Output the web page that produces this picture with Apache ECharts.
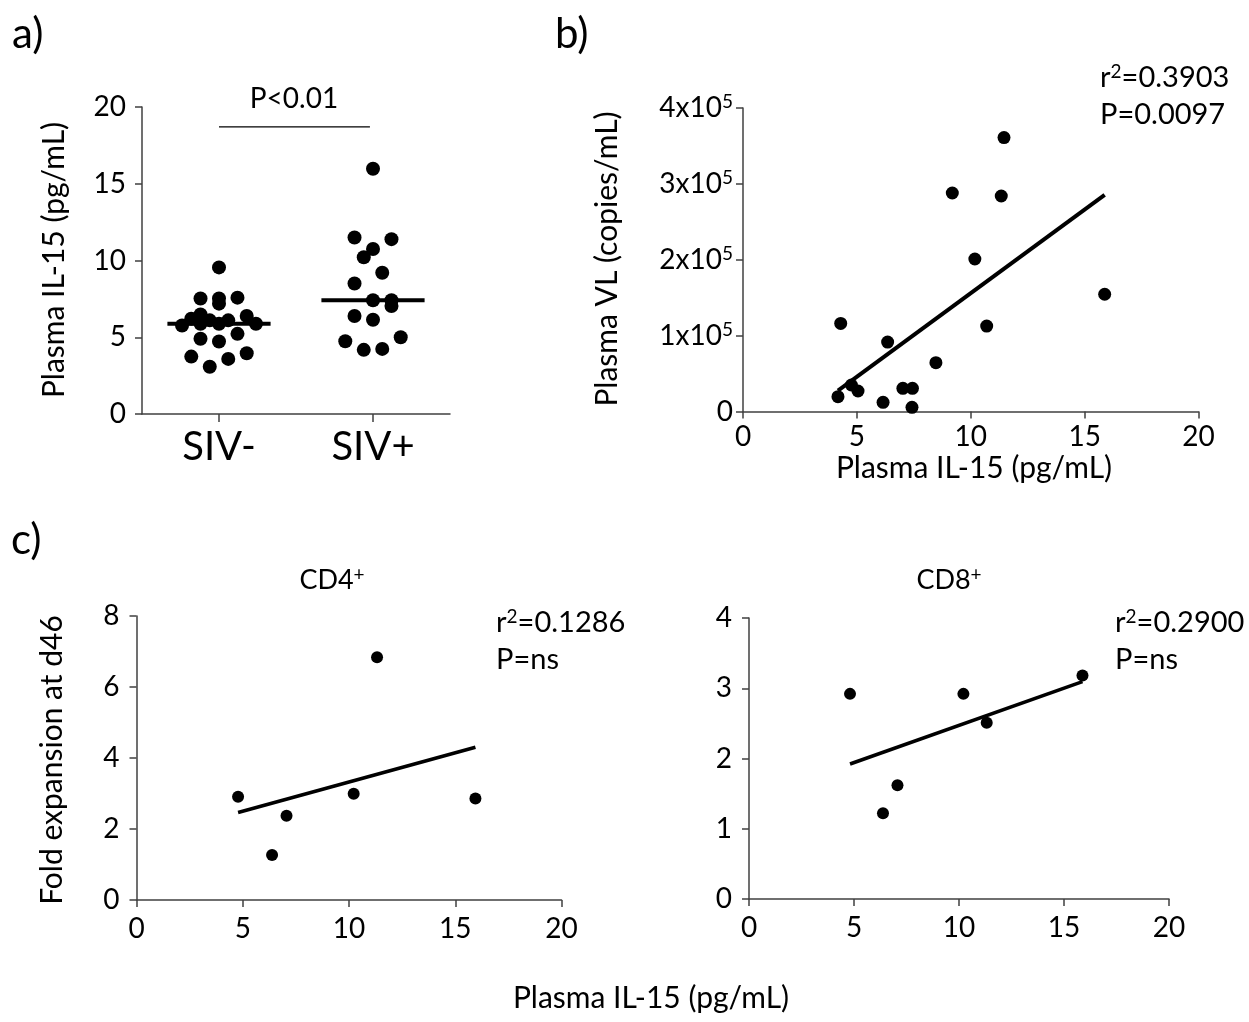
<!DOCTYPE html>
<html><head><meta charset="utf-8">
<script src="https://cdn.jsdelivr.net/npm/echarts@6/dist/echarts.min.js"></script>
<style>html,body{margin:0;padding:0;background:#fff}#c{width:1249px;height:1022px}</style>
</head><body><div id="c"></div>
<script>
// ---------- data ----------
const categories = ['SIV-', 'SIV+'];
// panel a: plasma IL-15 (pg/mL) per animal, and beeswarm slot (column) of each dot
const sivNeg = [9.55, 7.52, 7.52, 7.58, 7.19, 6.49, 6.21, 6.10, 6.10, 6.38, 5.77, 5.88, 5.88, 5.88, 5.22, 4.90, 4.72, 3.74, 3.59, 3.96, 3.08];
const sivNegSlot = [0, -2, 0, 2, 0, -2, -3, -1, 1, 3, -4, -2, 0, 4, 2, -2, 0, -3, 1, 3, -1];
const sivPos = [15.98, 11.50, 11.39, 10.75, 10.21, 9.20, 8.50, 7.41, 7.41, 7.04, 6.38, 6.14, 4.74, 5.00, 4.18, 4.24];
const sivPosSlot = [0, -2, 2, 0, -1, 1, -2, 0, 2, 2, -2, 0, -3, 3, -1, 1];
const bracketLevel = 18.7;
const pTextA = 'P<0.01';
// panel b: IL-15 vs viral load
const vlIL15 = [11.46, 9.19, 11.34, 10.18, 10.70, 4.29, 6.35, 8.47, 4.76, 5.05, 4.17, 6.15, 7.02, 7.44, 7.42, 15.88];
const vlCopies = [361000, 288000, 284000, 201000, 112600, 116100, 91500, 64300, 34900, 27000, 19500, 12100, 30500, 30500, 5500, 154500];
const r2B = '0.3903', pB = '0.0097';
// panel c: fold expansion at d46
const cd4IL15 = [4.78, 7.06, 6.38, 10.22, 11.32, 15.95];
const cd4Fold = [2.91, 2.37, 1.27, 2.99, 6.84, 2.86];
const cd8IL15 = [4.81, 10.21, 11.32, 15.88, 7.07, 6.38];
const cd8Fold = [2.92, 2.92, 2.51, 3.18, 1.62, 1.22];
const r2CD4 = '0.1286', r2CD8 = '0.2900', pC = 'ns';

// ---------- helpers ----------
const FONT = 'Lato';
const AX = '#404040';
const SLOT = 0.06;      // width of a beeswarm column, in category units
const HALF = 0.335;     // half width of a median bar
function median(a) {
  const s = a.slice().sort((x, y) => x - y), n = s.length;
  return n % 2 ? s[(n - 1) / 2] : (s[n / 2 - 1] + s[n / 2]) / 2;
}
function fit(xs, ys) {
  const n = xs.length;
  const mx = xs.reduce((p, v) => p + v, 0) / n, my = ys.reduce((p, v) => p + v, 0) / n;
  let sxy = 0, sxx = 0;
  for (let i = 0; i < n; i++) { sxy += (xs[i] - mx) * (ys[i] - my); sxx += (xs[i] - mx) ** 2; }
  const b = sxy / sxx, a = my - b * mx;
  const x0 = Math.min(...xs), x1 = Math.max(...xs);
  return [[x0, a + b * x0], [x1, a + b * x1]];
}
const TICK = 28;
function lbl(extra) { return Object.assign({ color: '#000', fontFamily: FONT, fontSize: TICK }, extra); }
function axisBase(extra) {
  return Object.assign({
    axisLine: { show: true, onZero: false, lineStyle: { color: AX, width: 1.5 } },
    axisTick: { show: true, inside: false, length: 7, lineStyle: { color: AX, width: 1.5 } },
    splitLine: { show: false },
    axisLabel: lbl({})
  }, extra);
}
const sup = { fontFamily: FONT, fontSize: 19, verticalAlign: 'top', lineHeight: 19, color: '#000' };

const chart = echarts.init(document.getElementById('c'), null, { renderer: 'canvas' });
const medNeg = median(sivNeg), medPos = median(sivPos);

function txt(x, y, text, size, opts) {
  opts = opts || {};
  return {
    type: 'text', x: x, y: y, rotation: opts.rot || 0, silent: true,
    style: Object.assign({
      text: text, fill: '#000', font: size + 'px ' + FONT,
      align: opts.align || 'center', verticalAlign: 'middle'
    }, opts.rich ? { rich: opts.rich } : {})
  };
}
function richStat(r2) { return '{b|r}{s|2}{b|=' + r2 + '}'; }
const richB = { b: { fontFamily: FONT, fontSize: 29, lineHeight: 32, color: '#000' }, s: sup };
const richT = { b: { fontFamily: FONT, fontSize: 27, lineHeight: 30, color: '#000' }, s: sup };

const option = {
  animation: false,
  backgroundColor: '#fff',
  grid: [
    { left: 142, top: 107, width: 308, height: 307 },
    { left: 743, top: 108, width: 455.5, height: 303.5 },
    { left: 136.5, top: 616, width: 425, height: 284 },
    { left: 749, top: 618, width: 420, height: 281 }
  ],
  xAxis: [
    axisBase({ type: 'value', gridIndex: 0, min: 0.5, max: 2.5,
      axisTick: { show: true, length: 8, customValues: [1, 2], lineStyle: { color: AX, width: 1.5 } },
      axisLabel: lbl({ customValues: [1, 2], fontSize: 40, margin: 13,
        formatter: v => categories[Math.round(v) - 1] }) }),
    axisBase({ type: 'value', gridIndex: 1, min: 0, max: 20, interval: 5, axisLabel: lbl({ margin: 11 }) }),
    axisBase({ type: 'value', gridIndex: 2, min: 0, max: 20, interval: 5, axisLabel: lbl({ margin: 15 }) }),
    axisBase({ type: 'value', gridIndex: 3, min: 0, max: 20, interval: 5, axisLabel: lbl({ margin: 15 }) })
  ],
  yAxis: [
    axisBase({ type: 'value', gridIndex: 0, min: 0, max: 20, interval: 5, axisLabel: lbl({ margin: 16 }) }),
    axisBase({ type: 'value', gridIndex: 1, min: 0, max: 400000, interval: 100000,
      axisLabel: lbl({ margin: 10,
        formatter: v => v === 0 ? '0' : '{b|' + (v / 100000) + 'x10}{s|5}',
        rich: { b: { fontFamily: FONT, fontSize: TICK, lineHeight: 31, color: '#000' }, s: sup } }) }),
    axisBase({ type: 'value', gridIndex: 2, min: 0, max: 8, interval: 2, axisLabel: lbl({ margin: 17 }) }),
    axisBase({ type: 'value', gridIndex: 3, min: 0, max: 4, interval: 1, axisLabel: lbl({ margin: 17 }) })
  ],
  series: [
    { type: 'scatter', xAxisIndex: 0, yAxisIndex: 0, symbolSize: 14, itemStyle: { color: '#000', opacity: 1 },
      data: sivNeg.map((v, i) => [1 + sivNegSlot[i] * SLOT, v]) },
    { type: 'scatter', xAxisIndex: 0, yAxisIndex: 0, symbolSize: 14, itemStyle: { color: '#000', opacity: 1 },
      data: sivPos.map((v, i) => [2 + sivPosSlot[i] * SLOT, v]) },
    { type: 'line', xAxisIndex: 0, yAxisIndex: 0, showSymbol: false, silent: true, z: 3,
      lineStyle: { color: '#000', width: 4 }, data: [[1 - HALF, medNeg], [1 + HALF, medNeg]] },
    { type: 'line', xAxisIndex: 0, yAxisIndex: 0, showSymbol: false, silent: true, z: 3,
      lineStyle: { color: '#000', width: 4 }, data: [[2 - HALF, medPos], [2 + HALF, medPos]] },
    { type: 'line', xAxisIndex: 0, yAxisIndex: 0, showSymbol: false, silent: true,
      lineStyle: { color: '#000', width: 1.2 }, data: [[1, bracketLevel], [2 - 0.02, bracketLevel]] },

    { type: 'scatter', xAxisIndex: 1, yAxisIndex: 1, symbolSize: 13, itemStyle: { color: '#000', opacity: 1 },
      data: vlIL15.map((x, i) => [x, vlCopies[i]]) },
    { type: 'line', xAxisIndex: 1, yAxisIndex: 1, showSymbol: false, silent: true,
      lineStyle: { color: '#000', width: 4 }, data: fit(vlIL15, vlCopies) },

    { type: 'scatter', xAxisIndex: 2, yAxisIndex: 2, symbolSize: 12, itemStyle: { color: '#000', opacity: 1 },
      data: cd4IL15.map((x, i) => [x, cd4Fold[i]]) },
    { type: 'line', xAxisIndex: 2, yAxisIndex: 2, showSymbol: false, silent: true,
      lineStyle: { color: '#000', width: 3.6 }, data: fit(cd4IL15, cd4Fold) },

    { type: 'scatter', xAxisIndex: 3, yAxisIndex: 3, symbolSize: 12, itemStyle: { color: '#000', opacity: 1 },
      data: cd8IL15.map((x, i) => [x, cd8Fold[i]]) },
    { type: 'line', xAxisIndex: 3, yAxisIndex: 3, showSymbol: false, silent: true,
      lineStyle: { color: '#000', width: 3.6 }, data: fit(cd8IL15, cd8Fold) }
  ],
  graphic: [
    txt(12, 34, 'a)', 42, { align: 'left' }),
    txt(555, 34, 'b)', 42, { align: 'left' }),
    txt(11, 540, 'c)', 42, { align: 'left' }),
    txt(54, 260, 'Plasma IL-15 (pg/mL)', 30, { rot: Math.PI / 2 }),
    txt(294, 99, pTextA, 28),
    txt(607, 259, 'Plasma VL (copies/mL)', 30, { rot: Math.PI / 2 }),
    txt(974, 468, 'Plasma IL-15 (pg/mL)', 30),
    txt(1100, 78, richStat(r2B), 29, { align: 'left', rich: richB }),
    txt(1100, 115, 'P=' + pB, 29, { align: 'left' }),
    txt(332, 580, '{b|CD4}{s|+}', 27, { rich: richT }),
    txt(949, 580, '{b|CD8}{s|+}', 27, { rich: richT }),
    txt(496, 623, richStat(r2CD4), 29, { align: 'left', rich: richB }),
    txt(496, 660, 'P=' + pC, 29, { align: 'left' }),
    txt(1115, 623, richStat(r2CD8), 29, { align: 'left', rich: richB }),
    txt(1115, 660, 'P=' + pC, 29, { align: 'left' }),
    txt(52, 760, 'Fold expansion at d46', 30, { rot: Math.PI / 2 }),
    txt(651, 998, 'Plasma IL-15 (pg/mL)', 30)
  ]
};
chart.setOption(option);
</script>
</body></html>
